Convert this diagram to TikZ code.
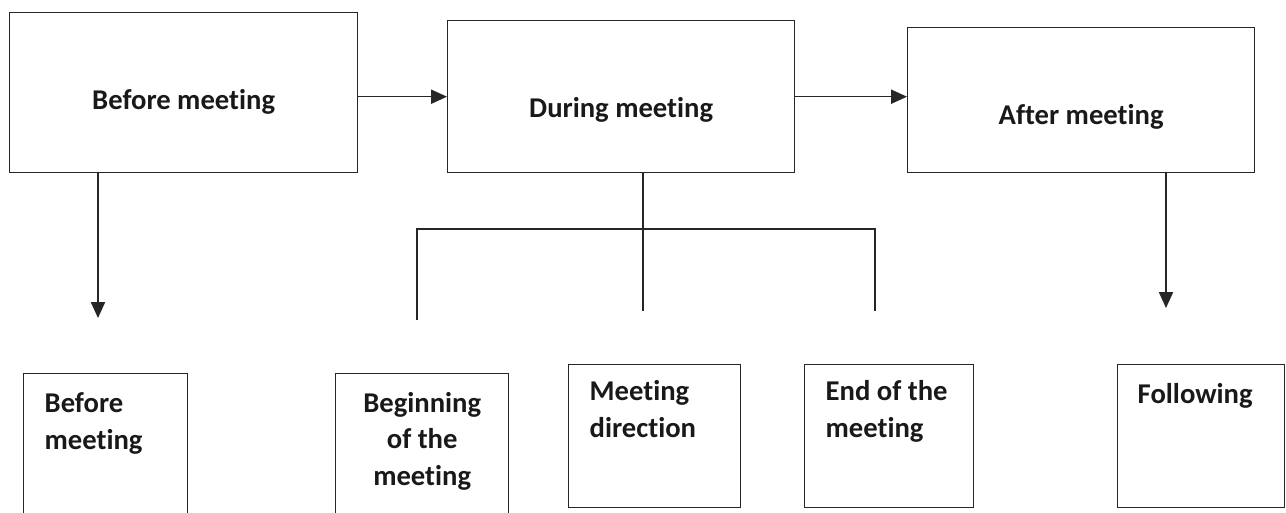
\documentclass[tikz,border=0pt]{standalone}
\usepackage{fontspec}
\setmainfont{Carlito}[Ligatures=NoCommon]
\usepackage{tikz}
\usetikzlibrary{arrows.meta,calc}

\begin{document}
\begin{tikzpicture}[x=0.02cm, y=-0.02cm, line width=0.8pt, >={Triangle[length=9pt,width=8pt]},
	every node/.style={font=\fontsize{16.3}{20.7}\selectfont\bfseries, text=black!90}]
	\tikzstyle{stage} = [rectangle, draw=black!85, inner sep=0pt, anchor=north west]
	\tikzstyle{task} = [rectangle, draw=black!85, inner sep=0pt, anchor=north west]
	\tikzstyle{caption} = [inner sep=0pt, anchor=base]
	\tikzstyle{listing} = [inner sep=0pt, anchor=base west, align=left]
	\useasboundingbox (0,0) rectangle (1286,512);
	\clip (0,0) rectangle (1286,512);
	% the three stages
	\node (before) [stage, minimum width=6.96cm, minimum height=3.2cm] at (9,12) {};
	\node (during) [stage, minimum width=6.94cm, minimum height=3.04cm] at (447,20) {};
	\node (after) [stage, minimum width=6.94cm, minimum height=2.9cm] at (907,27) {};
	\node (beforetxt) [caption] at ($(before.south)+(0,-64)$) {Before meeting};
	\node (duringtxt) [caption] at ($(during.south)+(0,-56)$) {During meeting};
	\node (aftertxt) [caption] at ($(after.south)+(0,-49)$) {After meeting};
	% the tasks (text anchored on the last line)
	\node (prepare) [task, minimum width=3.28cm, minimum height=3.3cm] at (23,373) {};
	\node (opening) [task, minimum width=3.46cm, minimum height=3.3cm] at (335,373) {};
	\node (direction) [task, minimum width=3.44cm, minimum height=2.86cm] at (568,364) {};
	\node (closing) [task, minimum width=3.38cm, minimum height=2.86cm] at (804,364) {};
	\node (following) [task, minimum width=3.34cm, minimum height=2.86cm] at (1117,364) {};
	\node (preparetxt) [listing] at ($(prepare.north west)+(21,76)$) {Before\\meeting};
	\node (openingtxt) [caption, align=center] at ($(opening.north)+(0,112)$) {Beginning\\of the\\meeting};
	\node (directiontxt) [listing] at ($(direction.north west)+(21,73)$) {Meeting\\direction};
	\node (closingtxt) [listing] at ($(closing.north west)+(21,73)$) {End of the\\meeting};
	\node (followingtxt) [listing] at ($(following.north west)+(20,39)$) {Following};
	% connectors
	\coordinate (beforedown) at (98,318);
	\coordinate (afterdown) at (1166,308);
	\coordinate (fork) at (643,229);
	\coordinate (open) at (417,320);
	\coordinate (direct) at (643,311);
	\coordinate (close) at (875,311);

	\draw [->, draw=black!85] (before.east |- during.west) -- (during.west);
	\draw [->, draw=black!85] (during.east) -- (during.east -| after.west);
	\draw [->, draw=black!85] (beforedown |- before.south) -- (beforedown);
	\draw [->, draw=black!85] (afterdown |- after.south) -- (afterdown);
	\draw [draw=black!85] (fork |- during.south) -- (direct);
	\draw [draw=black!85] (open) |- (fork) -| (close);
\end{tikzpicture}
\end{document}
